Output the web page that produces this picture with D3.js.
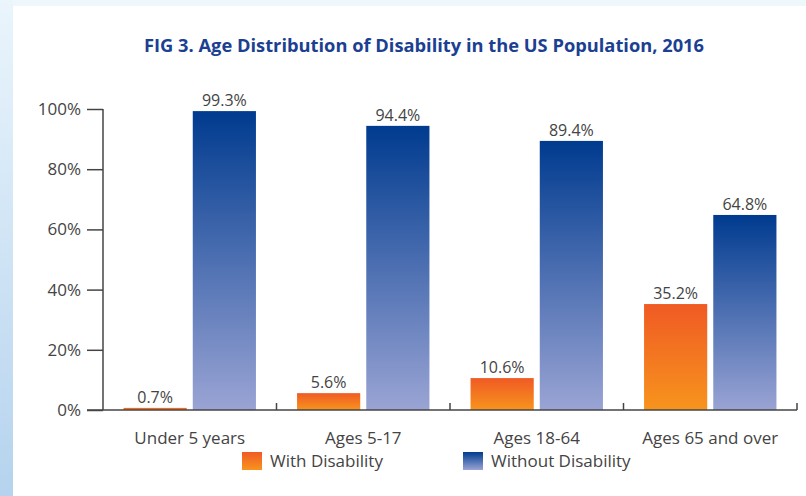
<!DOCTYPE html>
<html>
<head>
<meta charset="utf-8">
<title>Age Distribution of Disability</title>
<script src="https://cdn.jsdelivr.net/npm/d3@7"></script>
<style>
  body { margin: 0; background: #fff; }
  svg { display: block; }
</style>
</head>
<body>
<script>
// data
var categories = ["Under 5 years", "Ages 5-17", "Ages 18-64", "Ages 65 and over"];
var series = ["With Disability", "Without Disability"];
var withDisability = [0.7, 5.6, 10.6, 35.2];
var withoutDisability = [99.3, 94.4, 89.4, 64.8];
var yTicks = [0, 20, 40, 60, 80, 100];

var w = 806, h = 496;
var margin = {left: 103, right: 9, top: 109, bottom: 86};

var svg = d3.select("body").append("svg")
  .attr("width", w).attr("height", h);

var defs = svg.append("defs");
function grad(id, top, bottom) {
  var g = defs.append("linearGradient").attr("id", id)
    .attr("x1", 0).attr("y1", 0).attr("x2", 0).attr("y2", 1);
  g.append("stop").attr("offset", "0%").attr("stop-color", top);
  g.append("stop").attr("offset", "100%").attr("stop-color", bottom);
}
grad("gBlue", "#003b8f", "#9aa4d4");
grad("gOrange", "#f05a24", "#f7941d");
grad("gBand", "#eaf5fc", "#b5d3ee");

// light blue frame bits at left / top
svg.append("rect").attr("x", 0).attr("y", 0).attr("width", w).attr("height", 6).attr("fill", "#eef7fc");
svg.append("rect").attr("x", 0).attr("y", 0).attr("width", 13).attr("height", h).attr("fill", "url(#gBand)");

// title
svg.append("text")
  .attr("x", 424).attr("y", 52)
  .attr("text-anchor", "middle")
  .attr("font-family", "'Open Sans', sans-serif")
  .attr("font-weight", "bold")
  .attr("font-size", "18.3px")
  .attr("fill", "#1b3f91")
  .text("FIG 3. Age Distribution of Disability in the US Population, 2016");

var x0 = d3.scaleBand().domain(categories)
  .range([margin.left, w - margin.right]);
var x1 = d3.scaleBand().domain(series)
  .range([0, x0.bandwidth()]).paddingInner(0.087).paddingOuter(0.297);
var y = d3.scaleLinear().domain([0, 100]).range([h - margin.bottom, margin.top]);

var fills = {"With Disability": "url(#gOrange)", "Without Disability": "url(#gBlue)"};

var rows = categories.map(function(c, i) {
  return {cat: c, vals: [
    {s: series[0], v: withDisability[i]},
    {s: series[1], v: withoutDisability[i]}
  ]};
});

var groups = svg.selectAll("g.grp").data(rows).enter()
  .append("g").attr("class", "grp")
  .attr("transform", function(d) { return "translate(" + x0(d.cat) + ",0)"; });

groups.selectAll("rect").data(function(d) { return d.vals; }).enter()
  .append("rect")
  .attr("x", function(d) { return x1(d.s); })
  .attr("y", function(d) { return y(d.v); })
  .attr("width", x1.bandwidth())
  .attr("height", function(d) { return y(0) - y(d.v); })
  .attr("fill", function(d) { return fills[d.s]; });

groups.selectAll("text").data(function(d) { return d.vals; }).enter()
  .append("text")
  .attr("x", function(d) { return x1(d.s) + x1.bandwidth() / 2; })
  .attr("y", function(d) { return y(d.v) - 5; })
  .attr("text-anchor", "middle")
  .attr("font-family", "'Open Sans', sans-serif")
  .attr("font-size", "16px")
  .attr("fill", "#444")
  .text(function(d) { return d.v.toFixed(1) + "%"; });

// y axis
var yAxis = svg.append("g")
  .attr("transform", "translate(" + margin.left + ",0)")
  .call(d3.axisLeft(y).tickValues(yTicks).tickSize(16).tickPadding(6)
    .tickFormat(function(d) { return d + "%"; }));
yAxis.select(".domain").attr("stroke", "#444").attr("stroke-width", 1.5)
  .attr("d", "M0," + y(100) + "V" + y(0));
yAxis.selectAll(".tick line").attr("stroke", "#444").attr("stroke-width", 1.5);
yAxis.selectAll(".tick text")
  .attr("font-family", "'Open Sans', sans-serif")
  .attr("font-size", "17px").attr("fill", "#444");

// x axis baseline with group separators
var xAxis = svg.append("g");
xAxis.append("line")
  .attr("x1", margin.left - 16).attr("x2", w - margin.right)
  .attr("y1", y(0)).attr("y2", y(0))
  .attr("stroke", "#444").attr("stroke-width", 1.5);
var seps = categories.map(function(c) { return x0(c) + x0.bandwidth(); });
xAxis.selectAll("line.sep").data(seps).enter().append("line")
  .attr("class", "sep")
  .attr("x1", function(d) { return d; }).attr("x2", function(d) { return d; })
  .attr("y1", y(0)).attr("y2", y(0) - 7)
  .attr("stroke", "#444").attr("stroke-width", 1.5);
xAxis.selectAll("text").data(categories).enter().append("text")
  .attr("x", function(d) { return x0(d) + x0.bandwidth() / 2; })
  .attr("y", y(0) + 34)
  .attr("text-anchor", "middle")
  .attr("font-family", "'Open Sans', sans-serif")
  .attr("font-size", "17px").attr("fill", "#444")
  .text(function(d) { return d; });

// legend
var legX = [242, 463];
var legend = svg.selectAll("g.leg").data(series).enter()
  .append("g").attr("class", "leg")
  .attr("transform", function(d, i) { return "translate(" + legX[i] + ",452)"; });
legend.append("rect")
  .attr("width", 20).attr("height", 18)
  .attr("fill", function(d) { return fills[d]; });
legend.append("text")
  .attr("x", 28).attr("y", 15)
  .attr("font-family", "'Open Sans', sans-serif")
  .attr("font-size", "17px").attr("fill", "#444")
  .text(function(d) { return d; });
</script>
</body>
</html>
